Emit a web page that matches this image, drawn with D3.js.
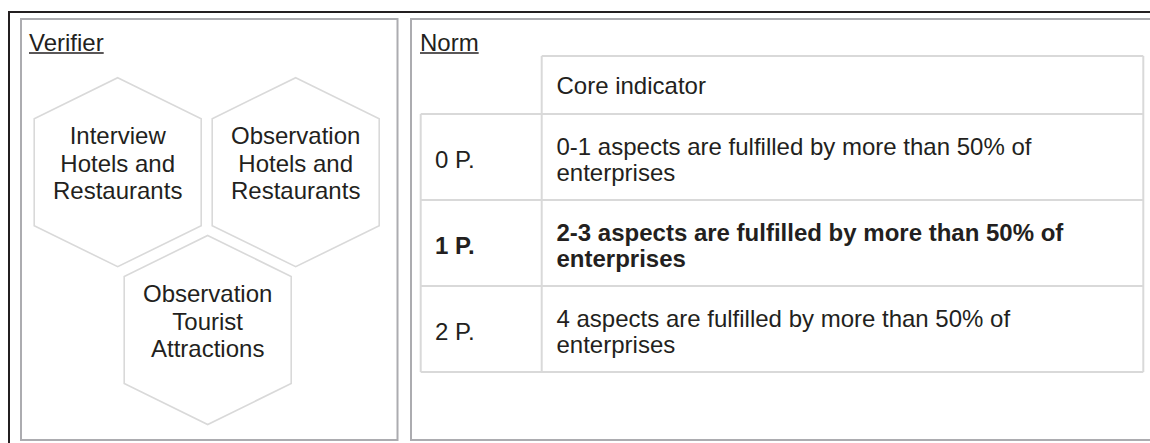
<!DOCTYPE html>
<html>
<head>
<meta charset="utf-8">
<script src="https://cdn.jsdelivr.net/npm/d3@7"></script>
<style>
  html, body { margin: 0; padding: 0; background: #ffffff; }
  svg { display: block; }
  text { font-family: "Liberation Sans", Arial, Helvetica, sans-serif; fill: #231f20; }
</style>
</head>
<body>
<svg id="chart" width="1150" height="443"></svg>
<script>
// ---- data ----
const panelTitles = ["Verifier", "Norm"];
const verifiers = [
  ["Interview", "Hotels and", "Restaurants"],
  ["Observation", "Hotels and", "Restaurants"],
  ["Observation", "Tourist", "Attractions"]
];
const tableHeader = "Core indicator";
const scores = ["0 P.", "1 P.", "2 P."];
const descriptions = [
  "0-1 aspects are fulfilled by more than 50% of enterprises",
  "2-3 aspects are fulfilled by more than 50% of enterprises",
  "4 aspects are fulfilled by more than 50% of enterprises"
];
const highlighted = [false, true, false];

// ---- drawing ----
const svg = d3.select("#chart");
const FS = 24;
const lineCol = "#d9d9d9";
const panelCol = "#acacb0";

// outer black frame (top and left visible)
svg.append("path")
  .attr("d", "M9,443 L9,12 L1150,12")
  .attr("fill", "none").attr("stroke", "#231f20").attr("stroke-width", 2);

// panels
svg.append("rect").attr("x", 21).attr("y", 19).attr("width", 376.5).attr("height", 421)
  .attr("fill", "none").attr("stroke", panelCol).attr("stroke-width", 2);
svg.append("rect").attr("x", 411).attr("y", 19).attr("width", 760).attr("height", 421)
  .attr("fill", "none").attr("stroke", panelCol).attr("stroke-width", 2);

// panel titles (underlined)
const titleX = [29, 420];
panelTitles.forEach((t, i) => {
  const tx = svg.append("text").attr("x", titleX[i]).attr("y", 50.5)
    .attr("font-size", FS).text(t);
  const w = tx.node().getComputedTextLength();
  svg.append("line").attr("x1", titleX[i]).attr("x2", titleX[i] + w)
    .attr("y1", 53).attr("y2", 53)
    .attr("stroke", "#231f20").attr("stroke-width", 1.5);
});

// hexagons
const hexW = 167, hexHalfH = 94.5, hexShoulder = 53.5;
const hexCenters = [[117.7, 172.2], [295.7, 172.2], [207.7, 330]];
const hexLine = d3.line();
const hexG = svg.append("g");
verifiers.forEach((lines, i) => {
  const [cx, cy] = hexCenters[i];
  const hw = hexW / 2;
  const pts = [
    [cx, cy - hexHalfH], [cx + hw, cy - hexShoulder], [cx + hw, cy + hexShoulder],
    [cx, cy + hexHalfH], [cx - hw, cy + hexShoulder], [cx - hw, cy - hexShoulder]
  ];
  hexG.append("path").attr("d", hexLine(pts) + "Z")
    .attr("fill", "#ffffff").attr("stroke", lineCol).attr("stroke-width", 1.6);
  const lh = 27.3;
  const n = lines.length;
  lines.forEach((ln, j) => {
    hexG.append("text").attr("x", cx).attr("y", cy - 0.5 + (j - (n - 1) / 2) * lh)
      .attr("text-anchor", "middle").attr("font-size", FS).text(ln);
  });
});

// table
const tblLeft = 420.7, colDiv = 541.7, tblRight = 1143.3;
const headTop = 56, bodyTop = 114, bodyBottom = 372;
const y = d3.scaleBand().domain(d3.range(scores.length)).range([bodyTop, bodyBottom]).padding(0);
const tg = svg.append("g");

// grid lines
const stroke = (x1, y1, x2, y2) => tg.append("line")
  .attr("x1", x1).attr("y1", y1).attr("x2", x2).attr("y2", y2)
  .attr("stroke", lineCol).attr("stroke-width", 2);
stroke(colDiv, headTop, tblRight, headTop);
stroke(colDiv, headTop, colDiv, bodyBottom);
stroke(tblRight, headTop, tblRight, bodyBottom);
stroke(tblLeft, bodyTop, tblLeft, bodyBottom);
scores.forEach((s, i) => {
  stroke(tblLeft, y(i), tblRight, y(i));
});
stroke(tblLeft, bodyBottom, tblRight, bodyBottom);

// header text
tg.append("text").attr("x", 556.5).attr("y", 94).attr("font-size", FS).text(tableHeader);

// rows
const maxW = 555;
scores.forEach((s, i) => {
  const c = y(i) + y.bandwidth() / 2;
  const weight = highlighted[i] ? "bold" : "normal";
  tg.append("text").attr("x", 435).attr("y", c + 11)
    .attr("font-size", FS).attr("font-weight", weight).text(s);
  // wrap description
  const words = descriptions[i].split(" ");
  const probe = tg.append("text").attr("font-size", FS).attr("font-weight", weight);
  const lines = [];
  let cur = [];
  words.forEach(w => {
    const test = cur.concat([w]).join(" ");
    probe.text(test);
    if (probe.node().getComputedTextLength() > maxW && cur.length) {
      lines.push(cur.join(" "));
      cur = [w];
    } else {
      cur.push(w);
    }
  });
  if (cur.length) lines.push(cur.join(" "));
  probe.remove();
  const lh = 26;
  lines.forEach((ln, j) => {
    tg.append("text").attr("x", 556.5)
      .attr("y", c + 11 + (j - (lines.length - 1) / 2) * lh)
      .attr("font-size", FS).attr("font-weight", weight).text(ln);
  });
});
</script>
</body>
</html>
